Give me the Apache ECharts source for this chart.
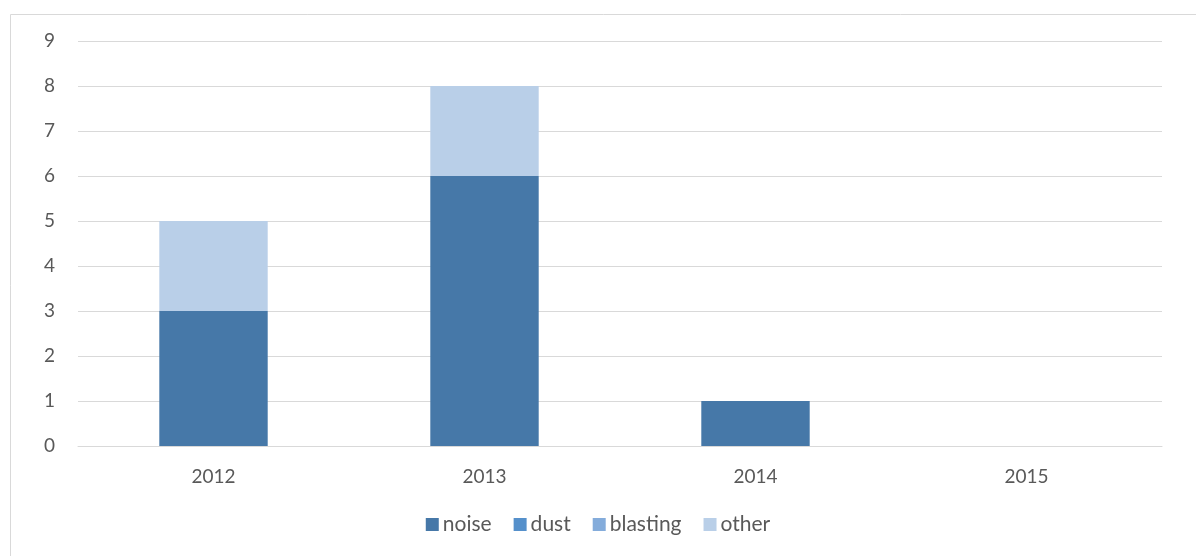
<!DOCTYPE html>
<html><head><meta charset="utf-8">
<script src="https://cdn.jsdelivr.net/npm/echarts@6/dist/echarts.min.js"></script>
<style>html,body{margin:0;padding:0;background:#fff}#c{width:1196px;height:556px}</style>
</head><body><div id="c"></div>
<script>
const categories = ['2012','2013','2014','2015'];
const noise = [3, 6, 1, 0];
const dust = [0, 0, 0, 0];
const blasting = [0, 0, 0, 0];
const other = [2, 2, 0, 0];
const seriesNames = ['noise','dust','blasting','other'];
const colors = ['#4678a8','#5590cb','#84acdb','#b9cfe8'];
const values = [noise, dust, blasting, other];
const font = 'Lato, "Liberation Sans", sans-serif';
const chart = echarts.init(document.getElementById('c'));
chart.setOption({
  animation:false,
  graphic:[{type:'rect',left:8,top:12,shape:{width:1400,height:700},style:{fill:'none',stroke:'#d9d9d9',lineWidth:1}}],
  grid:{left:78,right:34,top:41,bottom:110},
  legend:{top:509,left:'center',itemWidth:13,itemHeight:13,itemGap:22,icon:'rect',
    textStyle:{fontFamily:font,fontSize:21,color:'#595959',padding:[0,0,0,-1]},
    data:seriesNames},
  xAxis:{type:'category',data:categories,axisTick:{show:false},
    axisLine:{show:true,lineStyle:{color:'#d9d9d9'}},
    axisLabel:{fontFamily:font,fontSize:19,color:'#595959',margin:21}},
  yAxis:{type:'value',min:0,max:9,interval:1,
    axisLine:{show:false},axisTick:{show:false},
    splitLine:{lineStyle:{color:'#d9d9d9'}},
    axisLabel:{fontFamily:font,fontSize:19,color:'#595959',margin:23}},
  series: seriesNames.map((n,i)=>({name:n,type:'bar',stack:'a',barWidth:'40%',
    itemStyle:{color:colors[i]},data:values[i]}))
});
</script></body></html>
